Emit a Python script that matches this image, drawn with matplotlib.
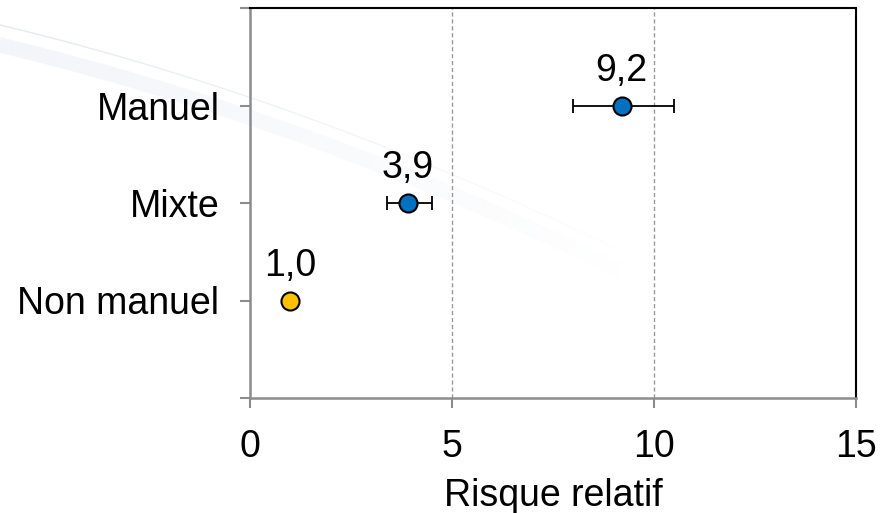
import matplotlib
matplotlib.use("Agg")
import matplotlib.pyplot as plt
import numpy as np

plt.rcParams['font.family'] = ['Liberation Sans', 'DejaVu Sans']

# données : risque relatif par type de travail
categories = ["Manuel", "Mixte", "Non manuel"]
rr = [9.2, 3.9, 1.0]
ic_bas = [8.0, 3.4, 1.0]
ic_haut = [10.5, 4.5, 1.0]
labels = ["9,2", "3,9", "1,0"]
couleurs = ["#0070C0", "#0070C0", "#FFC000"]
xticks = [0, 5, 10, 15]

fig = plt.figure(figsize=(8.91, 5.13), dpi=100)

# fond décoratif (courbe légère du modèle de présentation)
bg = fig.add_axes([0, 0, 1, 1], zorder=-10)
bg.set_xlim(0, 891)
bg.set_ylim(513, 0)
bg.axis("off")
xs = np.linspace(-10, 620, 200)
ys = 25 + 0.24 * xs + 0.0002 * xs ** 2
fade = np.clip(1 - xs / 640, 0, 1)
for i in range(len(xs) - 1):
    bg.plot(xs[i:i + 2], ys[i:i + 2] + 20, color="#e6ecf4", lw=11,
            alpha=0.5 * fade[i], solid_capstyle="butt")
    bg.plot(xs[i:i + 2], ys[i:i + 2], color="#d6e0ec", lw=1.0,
            alpha=0.7 * fade[i], solid_capstyle="butt")

ax = fig.add_axes([250 / 891, 1 - 398 / 513, 606 / 891, 390 / 513])
ax.patch.set_alpha(0)

ypos = [1, 2, 3]
for y, v, lo, hi, c, lab in zip(ypos, rr, ic_bas, ic_haut, couleurs, labels):
    if hi > lo:
        ax.errorbar(v, y, xerr=[[v - lo], [hi - v]], fmt="none",
                    ecolor="black", elinewidth=1.3, capsize=5, capthick=1.3,
                    zorder=3)
    ax.plot(v, y, "o", ms=13, mfc=c, mec="black", mew=1.5, zorder=4)
    ax.annotate(lab, (v, y), xytext=(0, 12), textcoords="offset points",
                ha="center", va="bottom", fontsize=27)

for xv in xticks[1:-1]:
    ax.axvline(xv, color="#999999", ls=(0, (3, 2)), lw=1, zorder=1)

ax.set_xlim(0, 15)
ax.set_ylim(4, 0)
ax.set_xticks(xticks)
ax.set_yticks([0, 1, 2, 3, 4])
ax.set_yticklabels([""] + categories + [""])
ax.tick_params(axis="both", direction="out", length=7, width=1.5,
               color="#8c8c8c", labelsize=27)
ax.tick_params(axis="y", pad=15)
ax.tick_params(axis="x", pad=15)
ax.set_xlabel("Risque relatif", fontsize=27, labelpad=10)

for s in ["left", "bottom"]:
    ax.spines[s].set_color("#8c8c8c")
    ax.spines[s].set_linewidth(1.8)
for s in ["top", "right"]:
    ax.spines[s].set_color("black")
    ax.spines[s].set_linewidth(1.5)

fig.savefig("out.png", dpi=100)
